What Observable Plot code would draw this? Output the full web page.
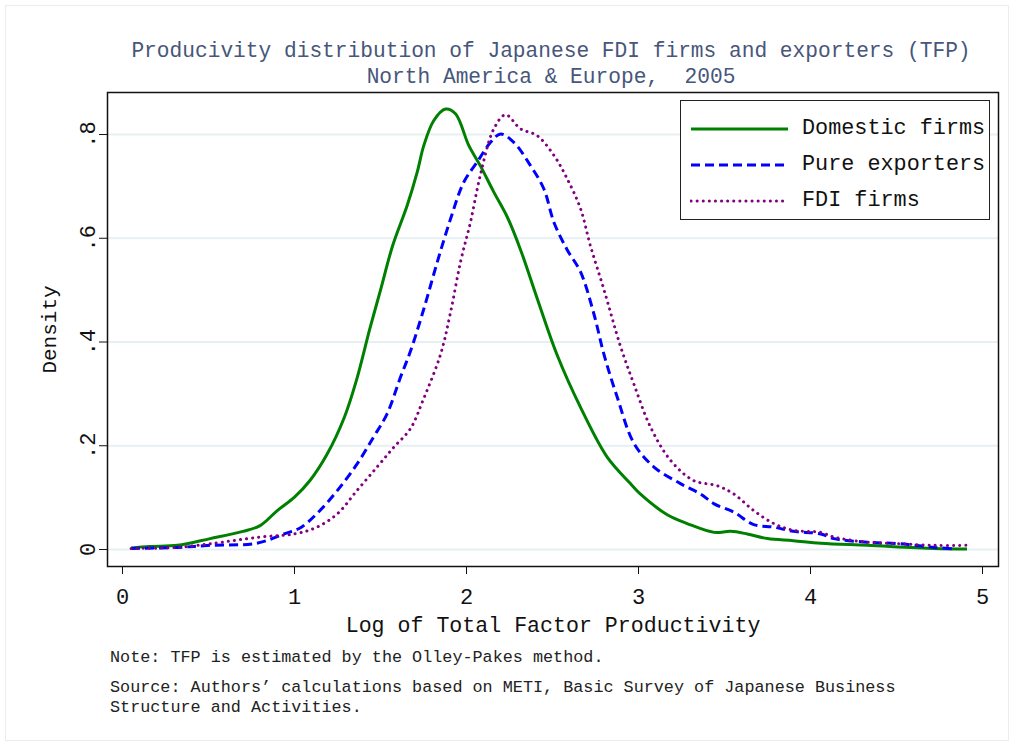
<!DOCTYPE html>
<html>
<head>
<meta charset="utf-8">
<script src="https://cdn.jsdelivr.net/npm/d3@7"></script>
<script src="https://cdn.jsdelivr.net/npm/@observablehq/plot@0.6"></script>
<style>
  html, body { margin: 0; padding: 0; background: #fff; }
  #wrap { position: relative; width: 1013px; height: 744px; overflow: hidden; font-family: "Liberation Mono", monospace; }
  #border { position: absolute; left: 5px; top: 5px; width: 1002px; height: 734px; border: 1px solid #ececec; }
  #chart { position: absolute; left: 0; top: 0; }
  .title { position: absolute; left: 0; width: 1102px; text-align: center; color: #47567a; font-size: 21.2px; line-height: 24px; white-space: pre; }
  .note { position: absolute; left: 110px; color: #222; font-size: 16.8px; line-height: 20px; white-space: pre; }
  #legend { position: absolute; left: 680px; top: 100px; width: 308px; height: 118px; border: 1.5px solid #222; background: #fff; }
  #legend .row { position: absolute; left: 0; height: 36px; width: 308px; }
  #legend .lab { position: absolute; left: 121px; top: 0; font-size: 21.8px; line-height: 36px; color: #111; white-space: pre; }
  #legend svg { position: absolute; left: 9px; top: 0; }
</style>
</head>
<body>
<div id="wrap">
  <div id="border"></div>
  <div id="chart"></div>
  <div class="title" style="top:39px">Producivity distribution of Japanese FDI firms and exporters (TFP)</div>
  <div class="title" style="top:65px">North America &amp; Europe,  2005</div>
  <div id="legend"></div>
  <div class="note" style="top:648px">Note: TFP is estimated by the Olley-Pakes method.</div>
  <div class="note" style="top:678px">Source: Authors’ calculations based on METI, Basic Survey of Japanese Business
Structure and Activities.</div>
</div>
<script>
// ---- data ----
const seriesNames = ["Domestic firms", "Pure exporters", "FDI firms"];
const domesticX = [0.05,0.16,0.32,0.51,0.70,0.80,0.90,1.0,1.09,1.19,1.29,1.36,1.44,1.50,1.57,1.655,1.713,1.752,1.81,1.878,1.936,2.013,2.08,2.159,2.237,2.314,2.41,2.527,2.663,2.818,2.953,3.01,3.167,3.283,3.44,3.535,3.632,3.75,3.90,4.06,4.33,4.72,4.91];
const domesticY = [0.003,0.006,0.008,0.021,0.035,0.046,0.075,0.101,0.133,0.184,0.255,0.326,0.428,0.500,0.585,0.663,0.727,0.779,0.827,0.849,0.840,0.779,0.740,0.689,0.641,0.578,0.485,0.375,0.274,0.178,0.127,0.107,0.067,0.050,0.033,0.035,0.030,0.021,0.017,0.012,0.008,0.002,0.001];
const exportersX = [0.05,0.32,0.51,0.78,0.94,1.035,1.13,1.25,1.364,1.46,1.539,1.616,1.674,1.752,1.83,1.907,1.984,2.062,2.14,2.198,2.275,2.372,2.45,2.508,2.585,2.663,2.74,2.80,2.876,2.973,3.09,3.244,3.36,3.44,3.554,3.67,3.787,3.90,4.06,4.136,4.33,4.52,4.72,4.85];
const exportersY = [0.002,0.004,0.008,0.012,0.030,0.042,0.069,0.114,0.165,0.217,0.262,0.332,0.382,0.464,0.554,0.637,0.708,0.747,0.785,0.801,0.785,0.740,0.695,0.631,0.578,0.535,0.455,0.375,0.294,0.205,0.159,0.127,0.107,0.088,0.072,0.048,0.043,0.035,0.030,0.021,0.014,0.011,0.004,0.001];
const fdiX = [0.05,0.32,0.51,0.80,1.0,1.13,1.25,1.364,1.48,1.577,1.674,1.75,1.85,1.907,1.965,2.023,2.08,2.159,2.227,2.314,2.41,2.508,2.585,2.663,2.72,2.80,2.895,2.973,3.07,3.186,3.32,3.457,3.554,3.67,3.787,3.90,4.06,4.136,4.33,4.52,4.72,4.91];
const fdiY = [0.002,0.004,0.011,0.024,0.030,0.043,0.069,0.114,0.159,0.197,0.233,0.290,0.377,0.457,0.554,0.631,0.721,0.811,0.838,0.811,0.798,0.760,0.715,0.657,0.586,0.500,0.392,0.319,0.236,0.172,0.133,0.123,0.107,0.075,0.050,0.037,0.033,0.024,0.014,0.011,0.008,0.008];
const xTicks = [0, 1, 2, 3, 4, 5];
const xTickLabels = ["0", "1", "2", "3", "4", "5"];
const yTicks = [0, 0.2, 0.4, 0.6, 0.8];
const yTickLabels = ["0", ".2", ".4", ".6", ".8"];
const xLabel = "Log of Total Factor Productivity";
const yLabel = "Density";

// ---- styles ----
const styles = [
  {stroke: "#008000", strokeWidth: 3, strokeDasharray: null, strokeLinecap: "butt"},
  {stroke: "#0000ff", strokeWidth: 3, strokeDasharray: "9 5", strokeLinecap: "butt"},
  {stroke: "#800080", strokeWidth: 3, strokeDasharray: "0.1 6", strokeLinecap: "round"}
];

const toRows = (xs, ys) => xs.map((x, i) => ({x, y: ys[i]}));
const series = [toRows(domesticX, domesticY), toRows(exportersX, exportersY), toRows(fdiX, fdiY)];

const chart = Plot.plot({
  width: 1013,
  height: 744,
  marginLeft: 107,
  marginRight: 15,
  marginTop: 92,
  marginBottom: 178,
  x: {domain: [-0.0872, 5.093]},
  y: {domain: [-0.0328, 0.881]},
  style: {fontFamily: "Liberation Mono, monospace", fontSize: "22px", color: "#111", background: "transparent"},
  marks: [
    Plot.gridY(yTicks, {stroke: "#e6eff1", strokeOpacity: 1, strokeWidth: 2}),
    ...series.map((rows, i) => Plot.line(rows, {x: "x", y: "y", curve: "catmull-rom", ...styles[i]})),
    Plot.frame({stroke: "#111", strokeWidth: 1.5}),
    Plot.axisX({ticks: xTicks, tickFormat: (d) => xTickLabels[xTicks.indexOf(d)], tickSize: 8, tickPadding: 14, label: null, stroke: "#111", fontSize: 22}),
    Plot.axisY({ticks: yTicks, tickFormat: () => "", tickSize: 8, label: null, stroke: "#111"}),
    Plot.text(yTicks, {y: d => d, text: (d, i) => yTickLabels[i], frameAnchor: "left", textAnchor: "middle", dx: -20, rotate: -90, fontSize: 22, fill: "#111"}),
    Plot.text([yLabel], {text: d => d, frameAnchor: "left", textAnchor: "middle", dx: -58, rotate: -90, fontSize: 21, fill: "#111"}),
    Plot.text([xLabel], {text: d => d, frameAnchor: "bottom", dy: 65, fontSize: 21.6, fill: "#111"})
  ]
});
document.getElementById("chart").appendChild(chart);

// ---- legend ----
const legend = document.getElementById("legend");
seriesNames.forEach((name, i) => {
  const row = document.createElement("div");
  row.className = "row";
  row.style.top = (10 + i * 36) + "px";
  const s = styles[i];
  row.innerHTML = `<svg width="100" height="36"><line x1="1" x2="98" y1="18" y2="18" stroke="${s.stroke}" stroke-width="${s.strokeWidth}" ${s.strokeDasharray ? `stroke-dasharray="${s.strokeDasharray}"` : ""} stroke-linecap="${s.strokeLinecap}"/></svg><span class="lab">${name}</span>`;
  legend.appendChild(row);
});
</script>
</body>
</html>
